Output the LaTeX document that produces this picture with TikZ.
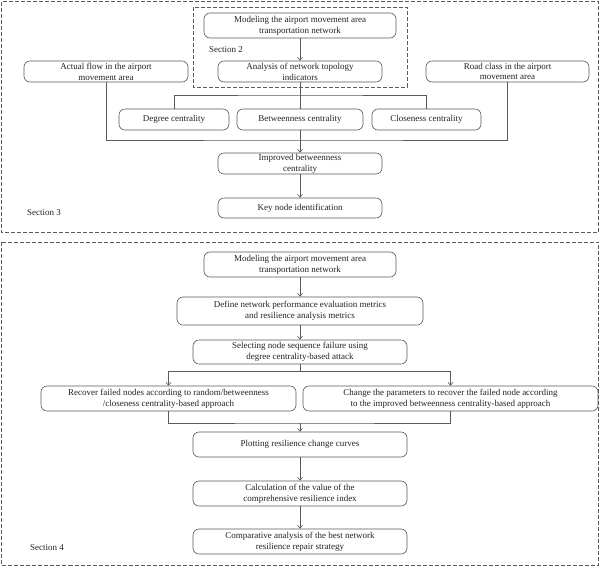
\documentclass[tikz,border=0pt]{standalone}
\usepackage{fontspec}
\setmainfont{Liberation Serif}
\usetikzlibrary{arrows.meta}
\definecolor{ln}{HTML}{5A5A5A}
\definecolor{tx}{HTML}{222222}
\begin{document}
\begin{tikzpicture}[x=1pt,y=-1pt,
  box/.style={draw=ln, line width=0.6pt, rounded corners=6pt, inner sep=0pt, align=center,
    font=\fontsize{9}{10.8}\selectfont, text=tx},
  wire/.style={draw=ln, line width=0.6pt},
  arr/.style={wire, -{Straight Barb[length=3pt,width=5pt]}},
  sect/.style={draw=ln, line width=0.6pt, dash pattern=on 4pt off 2pt},
  lab/.style={anchor=west, inner sep=0pt, font=\fontsize{9}{10.8}\selectfont, text=tx}]
\useasboundingbox (0,0) rectangle (600,566);
\fill[white] (0,0) rectangle (600,566);
% section frames
\draw[sect] (1.5,1.5) rectangle (598.5,232);
\draw[sect] (193,7) rectangle (407,87);
\draw[sect] (1.5,242) rectangle (598.5,565);
\node[lab] (s2) at (209,50) {Section 2};
\node[lab] (s3) at (27,213) {Section 3};
\node[lab] (s4) at (30,548) {Section 4};
% section 3 nodes
\node[box, minimum width=192pt, minimum height=25pt] (m1) at (300,25.5) {Modeling the airport movement area\\transportation network};
\node[box, minimum width=164pt, minimum height=21pt] (an) at (300,71.5) {Analysis of network topology\\indicators};
\node[box, minimum width=164pt, minimum height=21pt] (af) at (106,71.5) {Actual flow in the airport\\movement area};
\node[box, minimum width=163pt, minimum height=21pt] (rc) at (507.5,71.5) {Road class in the airport\\movement area};
\node[box, minimum width=110pt, minimum height=21pt] (dc) at (174,119.5) {Degree centrality};
\node[box, minimum width=126pt, minimum height=21pt] (bc) at (300,119.5) {Betweenness centrality};
\node[box, minimum width=109pt, minimum height=21pt] (cc) at (426.5,119.5) {Closeness centrality};
\node[box, minimum width=164pt, minimum height=21pt] (ib) at (300,163.5) {Improved betweenness\\centrality};
\node[box, minimum width=164pt, minimum height=20pt] (kn) at (300,208) {Key node identification};
% section 3 connectors
\coordinate (t1) at (300,95);
\coordinate (t2) at (300,140);
\draw[arr] (m1) -- (an);
\draw[wire] (an) -- (bc);
\draw[wire] (dc.north) |- (t1) -| (cc.north);
\draw[wire] (af.south) |- (t2) -| (rc.south);
\draw[arr] (bc) -- (ib);
\draw[arr] (ib) -- (kn);
% section 4 nodes
\node[box, minimum width=192pt, minimum height=25pt] (m2) at (300,264.5) {Modeling the airport movement area\\transportation network};
\node[box, minimum width=246pt, minimum height=28pt] (df) at (300,311) {Define network performance evaluation metrics\\and resilience analysis metrics};
\node[box, minimum width=214pt, minimum height=24pt] (sn) at (300,352) {Selecting node sequence failure using\\degree centrality-based attack};
\node[box, minimum width=255pt, minimum height=25pt] (rf) at (168.5,398.5) {Recover failed nodes according to random/betweenness\\/closeness centrality-based approach};
\node[box, minimum width=295pt, minimum height=25pt] (ch) at (450.5,398.5) {Change the parameters to recover the failed node according\\to the improved betweenness centrality-based approach};
\node[box, minimum width=214pt, minimum height=25pt] (pl) at (300,444.5) {Plotting resilience change curves};
\node[box, minimum width=214pt, minimum height=25pt] (ca) at (300,493.5) {Calculation of the value of the\\comprehensive resilience index};
\node[box, minimum width=214pt, minimum height=25pt] (co) at (300,541.5) {Comparative analysis of the best network\\resilience repair strategy};
% section 4 connectors
\coordinate (j1) at (300,371);
\coordinate (j2) at (300,423);
\draw[arr] (m2) -- (df);
\draw[arr] (df) -- (sn);
\draw[wire] (sn.south) -- (j1);
\draw[arr] (j1) -| (rf.north);
\draw[arr] (j1) -| (ch.north);
\draw[wire] (rf.south) |- (j2) -| (ch.south);
\draw[arr] (j2) -- (pl.north);
\draw[arr] (pl) -- (ca);
\draw[arr] (ca) -- (co);
\end{tikzpicture}
\end{document}
